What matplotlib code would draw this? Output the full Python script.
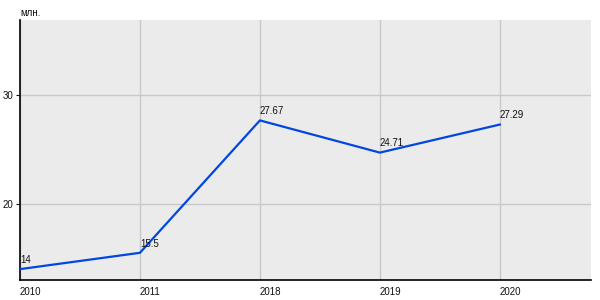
import matplotlib
matplotlib.use("Agg")
import matplotlib.pyplot as plt

plt.rcParams["font.family"] = ["Liberation Sans", "DejaVu Sans"]

years = ["2010", "2011", "2018", "2019", "2020"]
values = [14, 15.5, 27.67, 24.71, 27.29]
labels = ["14", "15.5", "27.67", "24.71", "27.29"]

fig = plt.figure(figsize=(6, 3), dpi=100)
ax = fig.add_axes([20 / 600, 20 / 300, 571 / 600, 260 / 300])
ax.set_facecolor("#ebebeb")

x = list(range(len(years)))
ax.plot(x, values, color="#0047e0", linewidth=1.6, zorder=3)
for xi, v, t in zip(x, values, labels):
    ax.annotate(t, (xi, v), xytext=(0, 3), textcoords="offset points",
                ha="left", va="bottom", fontsize=7, color="#111111")

ax.set_xlim(0, 4.76)
ax.set_ylim(13.0, 36.9)
ax.set_xticks(x)
ax.set_xticklabels(years, ha="left")
for lab in ax.get_xticklabels():
    lab.set_x(lab.get_position()[0])
ax.set_yticks([20, 30])
ax.tick_params(axis="both", labelsize=7, colors="#111111", length=3, pad=2)
ax.tick_params(axis="x", length=0, pad=5)
ax.grid(True, color="#c8c8c8", linewidth=1)
ax.set_axisbelow(True)
for s in ["top", "right"]:
    ax.spines[s].set_visible(False)
for s in ["left", "bottom"]:
    ax.spines[s].set_color("black")
    ax.spines[s].set_linewidth(1.2)

fig.text(20 / 600, 1 - 13 / 300, "млн.", fontsize=7, color="#111111",
         ha="left", va="center")

fig.savefig("out.png", dpi=100)
